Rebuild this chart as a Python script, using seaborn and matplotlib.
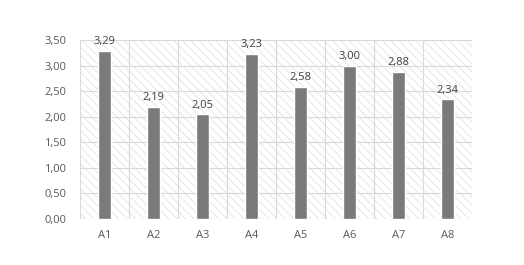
import matplotlib
matplotlib.use("Agg")
import matplotlib.pyplot as plt
import seaborn as sns
import pandas as pd
from matplotlib.patches import Rectangle

categories = ["A1", "A2", "A3", "A4", "A5", "A6", "A7", "A8"]
values = [3.29, 2.19, 2.05, 3.23, 2.58, 3.00, 2.88, 2.34]
yticks = [0.0, 0.5, 1.0, 1.5, 2.0, 2.5, 3.0, 3.5]

df = pd.DataFrame({"cat": categories, "val": values})

sns.set_style("white")
plt.rcParams["font.family"] = ["Open Sans", "DejaVu Sans"]
plt.rcParams["hatch.linewidth"] = 0.6
plt.rcParams["hatch.color"] = "#e2e2e2"

fig = plt.figure(figsize=(5.24, 2.65), dpi=100)
ax = fig.add_axes([80 / 524, 1 - 219 / 265, (472 - 80) / 524, (219 - 40) / 265])

bg = Rectangle((0, 0), 1, 1, transform=ax.transAxes, facecolor="white",
               edgecolor="#e2e2e2", hatch="\\\\\\\\", linewidth=0, zorder=0)
ax.add_patch(bg)

sns.barplot(data=df, x="cat", y="val", color="#7a7a7a", width=0.27,
            saturation=1, ax=ax, zorder=3)

ax.set_xlim(-0.5, len(categories) - 0.5)
ax.set_ylim(0, 3.5)
ax.set_yticks(yticks)
ax.set_yticklabels([f"{t:.2f}".replace(".", ",") for t in yticks])
for t in yticks:
    ax.axhline(t, color="#d9d9d9", lw=0.8, zorder=1)
for i in range(len(categories) + 1):
    ax.axvline(i - 0.5, color="#d9d9d9", lw=0.8, zorder=1)

for i, v in enumerate(values):
    ax.text(i, v + 0.07, f"{v:.2f}".replace(".", ","), ha="center", va="bottom",
            fontsize=8, color="#404040")

ax.set_xlabel("")
ax.set_ylabel("")
for s in ax.spines.values():
    s.set_visible(False)
ax.tick_params(axis="both", length=0, labelsize=8, colors="#595959")
ax.tick_params(axis="x", pad=8)
ax.tick_params(axis="y", pad=10)

fig.savefig("out.png", dpi=100)
